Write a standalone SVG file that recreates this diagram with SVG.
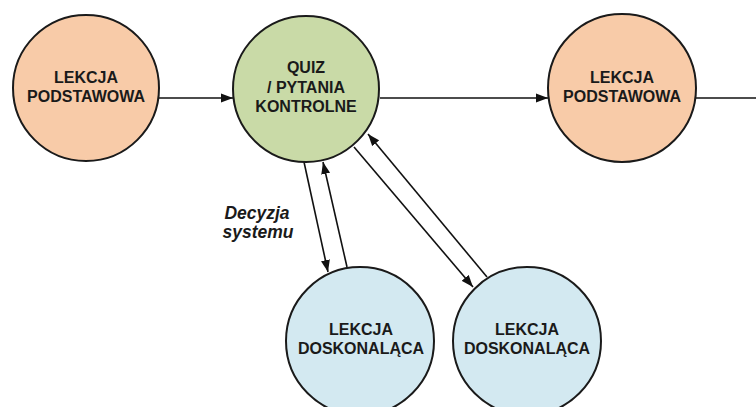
<svg xmlns="http://www.w3.org/2000/svg" width="756" height="407" viewBox="0 0 756 407">
<style>
.node{stroke:#1a1a1a;stroke-width:2}
.orange{fill:#F8CBA8}
.green{fill:#C9DAA7}
.blue{fill:#D3E9F1}
.lbl{font-family:"Liberation Sans",Arial,sans-serif;font-weight:bold;font-size:16px;fill:#1a1a1a;text-anchor:middle}
.note{font-family:"Liberation Sans",Arial,sans-serif;font-weight:bold;font-style:italic;font-size:17.5px;fill:#1a1a1a;text-anchor:middle}
.edge{stroke:#111;stroke-width:1.6;fill:none}
</style>
<defs>
<marker id="arr" viewBox="0 0 12 10" refX="12" refY="5" markerWidth="12" markerHeight="10" markerUnits="userSpaceOnUse" orient="auto">
<path d="M0,0.5 L12,5 L0,9.5 Z" fill="#111"/>
</marker>
</defs>
<rect width="756" height="407" fill="#fff"/>
<g id="connectors">
<line class="edge" x1="159" y1="98" x2="233" y2="98" marker-end="url(#arr)"/>
<line class="edge" x1="380" y1="98" x2="548" y2="98" marker-end="url(#arr)"/>
<line class="edge" x1="696" y1="98" x2="756" y2="98"/>
<line class="edge" x1="304" y1="162" x2="328" y2="272" marker-end="url(#arr)"/>
<line class="edge" x1="347" y1="267" x2="323" y2="162" marker-end="url(#arr)"/>
<line class="edge" x1="354" y1="147" x2="473" y2="287" marker-end="url(#arr)"/>
<line class="edge" x1="487" y1="277" x2="368" y2="134" marker-end="url(#arr)"/>
</g>
<g id="lekcja-podstawowa-1">
<circle class="node orange" cx="86" cy="88" r="73"/>
<text class="lbl" x="86" y="83">LEKCJA</text>
<text class="lbl" x="86" y="102">PODSTAWOWA</text>
</g>
<g id="quiz">
<circle class="node green" cx="306" cy="89" r="73"/>
<text class="lbl" x="306" y="73">QUIZ</text>
<text class="lbl" x="306" y="93">/ PYTANIA</text>
<text class="lbl" x="306" y="112">KONTROLNE</text>
</g>
<g id="lekcja-podstawowa-2">
<circle class="node orange" cx="622" cy="88" r="74"/>
<text class="lbl" x="622" y="83">LEKCJA</text>
<text class="lbl" x="622" y="102">PODSTAWOWA</text>
</g>
<g id="lekcja-doskonalaca-1">
<circle class="node blue" cx="360" cy="341" r="74"/>
<text class="lbl" x="361" y="335">LEKCJA</text>
<text class="lbl" x="361" y="354">DOSKONALĄCA</text>
</g>
<g id="lekcja-doskonalaca-2">
<circle class="node blue" cx="527" cy="341" r="74"/>
<text class="lbl" x="527" y="335">LEKCJA</text>
<text class="lbl" x="527" y="354">DOSKONALĄCA</text>
</g>
<g id="note">
<text class="note" x="257" y="219">Decyzja</text>
<text class="note" x="258" y="238">systemu</text>
</g>
</svg>
